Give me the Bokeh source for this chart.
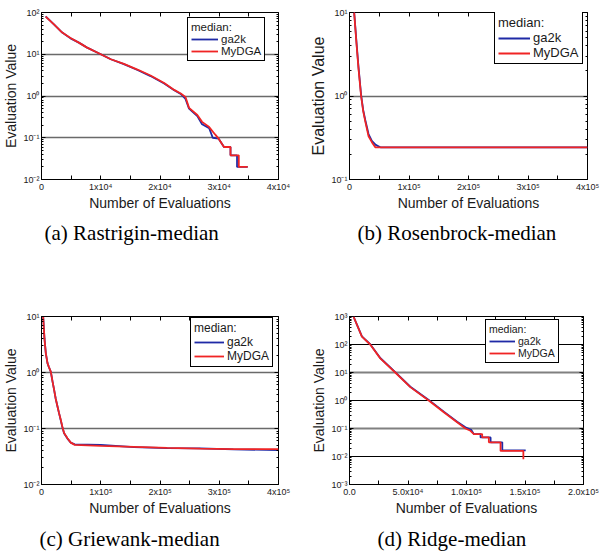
from bokeh.plotting import figure
from bokeh.layouts import row, column
from bokeh.models import (Range1d, FixedTicker, CustomJSTickFormatter, LogAxis,
                          LinearAxis, Grid, Title)
from bokeh.embed import file_html
from bokeh.resources import INLINE

# ---------------- data ----------------
# (a) Rastrigin
ras_x_ga2k = [700, 2100, 3500, 4900, 6300, 7700, 10000, 11700, 13900, 16200, 18400, 20700,
              22400, 23500, 24300, 24900, 26300, 27100, 28300, 28900, 29900, 30800, 31900,
              31900, 33000, 33000, 34800]
ras_y_ga2k = [81, 52, 33, 24, 19, 14.4, 10, 7.6, 5.8, 4.2, 3.0, 2.0,
              1.38, 1.12, 0.85, 0.50, 0.33, 0.21, 0.17, 0.10, 0.095, 0.06, 0.06,
              0.038, 0.038, 0.02, 0.02]
ras_x_mydga = [700, 2100, 3500, 4900, 6300, 7700, 10000, 11700, 13900, 16200, 18400, 20700,
               22400, 23500, 24300, 24900, 26300, 27100, 28300, 29300, 29900, 30800, 31900,
               31900, 33300, 33300, 34800]
ras_y_mydga = [80, 52, 33, 24.5, 19, 14.4, 10, 7.6, 5.9, 4.3, 3.1, 2.05,
               1.40, 1.15, 0.95, 0.52, 0.35, 0.24, 0.18, 0.12, 0.095, 0.06, 0.06,
               0.038, 0.038, 0.02, 0.02]

# (b) Rosenbrock
ros_x_ga2k = [7000, 12000, 15200, 19700, 23000, 26400, 32000, 37600, 44000, 52000, 400000]
ros_y_ga2k = [12, 4.2, 2.2, 1.0, 0.68, 0.52, 0.35, 0.29, 0.26, 0.243, 0.243]
ros_x_mydga = [7000, 12000, 15200, 19500, 23000, 26400, 32000, 37600, 43300, 400000]
ros_y_mydga = [12, 4.0, 2.1, 1.0, 0.66, 0.50, 0.33, 0.28, 0.243, 0.243]

# (c) Griewank
gri_x = [2000, 5000, 7300, 10100, 12500, 15700, 18500, 21300, 24000, 26900, 29500, 32500,
         35000, 38100, 43800, 49400, 56100, 100000, 156000, 212000, 268000, 324000, 400000]
gri_y_ga2k = [14, 4.1, 2.2, 1.47, 1.25, 1.03, 0.70, 0.49, 0.34, 0.25, 0.19, 0.140,
              0.108, 0.082, 0.066, 0.056, 0.052, 0.051, 0.0465, 0.0445, 0.044, 0.0425, 0.041]
gri_y_mydga = [14, 4.0, 2.2, 1.47, 1.25, 1.04, 0.70, 0.49, 0.34, 0.25, 0.19, 0.143,
               0.110, 0.083, 0.067, 0.056, 0.051, 0.049, 0.047, 0.045, 0.0436, 0.043, 0.043]

# (d) Ridge
rid_x_ga2k = [3400, 6000, 10600, 17700, 26300, 39100, 52000, 67700, 80600, 92000, 99100,
              104000, 106300, 112000, 112000, 120600, 120600, 130600, 130600, 150600]
rid_y_ga2k = [1000, 560, 195, 102, 33, 10.3, 3.1, 1.05, 0.40, 0.175, 0.11,
              0.09, 0.063, 0.063, 0.048, 0.048, 0.032, 0.032, 0.0165, 0.0165]
rid_x_mydga = [3400, 6000, 10600, 17700, 26300, 39100, 52000, 67700, 80600, 92000, 99100,
               103400, 106300, 113400, 113400, 119100, 119100, 129100, 129100, 148600, 148600]
rid_y_mydga = [1000, 550, 190, 100, 32, 10, 3.0, 1.0, 0.38, 0.166, 0.10,
               0.083, 0.063, 0.063, 0.048, 0.048, 0.032, 0.032, 0.0158, 0.0158, 0.008]

# ---------------- ticks / labels ----------------
ras_xticks = [0, 10000, 20000, 30000, 40000]
ras_xlabels = ["0", "1x10\u2074", "2x10\u2074", "3x10\u2074", "4x10\u2074"]
ras_xminor = [5000, 15000, 25000, 35000]
big_xticks = [0, 100000, 200000, 300000, 400000]
big_xlabels = ["0", "1x10\u2075", "2x10\u2075", "3x10\u2075", "4x10\u2075"]
big_xminor = [50000, 150000, 250000, 350000]
rid_xticks = [0, 50000, 100000, 150000, 200000]
rid_xlabels = ["0.0", "5.0x10\u2074", "1.0x10\u2075", "1.5x10\u2075", "2.0x10\u2075"]
rid_xminor = [25000, 75000, 125000, 175000]

exp_labels = {-3: "10\u207b\u00b3", -2: "10\u207b\u00b2", -1: "10\u207b\u00b9", 0: "10\u2070",
              1: "10\u00b9", 2: "10\u00b2", 3: "10\u00b3"}

titles = ["(a) Rastrigin-median", "(b) Rosenbrock-median",
          "(c) Griewank-median", "(d) Ridge-median"]
series_names = ["ga2k", "MyDGA"]

BLUE = "#1f2aa6"
RED = "#f02424"
SANS = "Liberation Sans"
TXT = "#1a1a1a"


def fmt(ticks, labels):
    return CustomJSTickFormatter(args=dict(t=list(ticks), l=list(labels)), code="""
        const i = t.findIndex(v => Math.abs(v - tick) <= 1e-6 * Math.max(Math.abs(v), 1e-12));
        return i >= 0 ? l[i] : "";
    """)


def panel(xb, yb, xr, yr, xmax, xticks, xlabels, xminor, emin, emax, grid_black, grid_gray,
          caption, cap_offset, height, btop, bbottom, bleft, bright, leg_xy, leg_font,
          leg_glyph, ylab_font, cap_standoff):
    p = figure(width=300, height=height, y_axis_type="log",
               x_range=Range1d(0, xmax), y_range=Range1d(10.0 ** emin, 10.0 ** emax),
               output_backend="svg", toolbar_location=None,
               min_border_top=btop, min_border_bottom=bbottom,
               min_border_left=bleft, min_border_right=bright)
    p.background_fill_color = "white"
    p.border_fill_color = "white"
    p.outline_line_color = "black"
    p.outline_line_width = 1

    yt = [10.0 ** e for e in range(emin, emax + 1)]
    yl = [exp_labels[e] for e in range(emin, emax + 1)]
    ym = [k * 10.0 ** e for e in range(emin, emax) for k in range(2, 10)]

    xticker = FixedTicker(ticks=xticks, minor_ticks=xminor)
    yticker = FixedTicker(ticks=yt, minor_ticks=ym)

    xa = p.xaxis[0]
    xa.ticker = xticker
    xa.formatter = fmt(xticks, xlabels)
    ya = p.yaxis[0]
    ya.ticker = yticker
    ya.formatter = fmt(yt, yl)
    for ax in (xa, ya):
        ax.axis_line_color = "black"
        ax.major_tick_line_color = "black"
        ax.minor_tick_line_color = "black"
        ax.major_tick_in = 4
        ax.major_tick_out = 0
        ax.minor_tick_in = 2
        ax.minor_tick_out = 0
        ax.major_label_text_font = SANS
        ax.major_label_text_font_size = "9px"
        ax.major_label_text_color = TXT
        ax.major_label_standoff = 2
        ax.axis_label_text_font = SANS
        ax.axis_label_text_font_style = "normal"
        ax.axis_label_text_color = TXT
        ax.axis_label_standoff = 1
    xa.minor_tick_in = 4
    xa.axis_label = "Number of Evaluations"
    xa.axis_label_text_font_size = "14px"
    xa.axis_label_standoff = 0
    ya.axis_label = "Evaluation Value"
    ya.axis_label_text_font_size = ylab_font

    # mirrored tick marks (box on)
    blank = CustomJSTickFormatter(code="return '';")
    ra = LogAxis(ticker=yticker, formatter=blank, axis_line_color=None,
                 major_tick_in=4, major_tick_out=0, minor_tick_in=2, minor_tick_out=0,
                 major_label_standoff=0, major_tick_line_color="black",
                 minor_tick_line_color="black")
    p.add_layout(ra, "right")
    ta = LinearAxis(ticker=xticker, formatter=blank, axis_line_color=None,
                    major_tick_in=4, major_tick_out=0, minor_tick_in=4, minor_tick_out=0,
                    major_label_standoff=0, major_tick_line_color="black",
                    minor_tick_line_color="black")
    p.add_layout(ta, "above")

    p.xgrid.visible = False
    p.ygrid.ticker = FixedTicker(ticks=grid_black[0])
    p.ygrid.grid_line_color = grid_black[1]
    p.ygrid.grid_line_width = grid_black[2]
    if grid_gray:
        g2 = Grid(dimension=1, ticker=FixedTicker(ticks=grid_gray[0]),
                  grid_line_color=grid_gray[1], grid_line_width=grid_gray[2])
        p.add_layout(g2)

    p.line(xb, yb, line_color=BLUE, line_width=1.8, legend_label=series_names[0])
    p.line(xr, yr, line_color=RED, line_width=1.8, legend_label=series_names[1])

    lg = p.legend[0]
    lg.title = "median:"
    lg.title_text_font = SANS
    lg.title_text_font_style = "normal"
    lg.title_text_font_size = leg_font
    lg.title_text_color = TXT
    lg.title_standoff = 0
    lg.label_text_font = SANS
    lg.label_text_font_size = leg_font
    lg.label_text_color = TXT
    lg.location = leg_xy
    lg.border_line_color = "#000000"
    lg.border_line_alpha = 1.0
    lg.border_line_width = 1.3
    lg.background_fill_color = "white"
    lg.background_fill_alpha = 1
    lg.padding = 3
    lg.margin = 0
    lg.spacing = 0
    lg.label_height = 12
    lg.glyph_height = 12
    lg.glyph_width = leg_glyph
    lg.label_standoff = 3

    p.add_layout(Title(text=caption, align="left", offset=cap_offset,
                       text_font="Liberation Serif", text_font_size="21px",
                       text_font_style="normal", text_color="black",
                       standoff=cap_standoff), "below")
    return p


GRID = "#6a6a6a"
pa = panel(ras_x_ga2k, ras_y_ga2k, ras_x_mydga, ras_y_mydga, 40000,
           ras_xticks, ras_xlabels, ras_xminor, -2, 2,
           ([0.1, 1, 10], GRID, 1.6), None, titles[0], 3,
           255, 12, 76, 41, 22, (146, 118), "11.5px", 27, "14px", 11)
pb = panel(ros_x_ga2k, ros_y_ga2k, ros_x_mydga, ros_y_mydga, 400000,
           big_xticks, big_xlabels, big_xminor, -1, 1,
           ([1], GRID, 1.6), None, titles[1], 8,
           255, 12, 76, 49, 13, (145, 115), "13px", 32, "16px", 11)
pc = panel(gri_x, gri_y_ga2k, gri_x, gri_y_mydga, 400000,
           big_xticks, big_xlabels, big_xminor, -2, 1,
           ([0.1, 1], GRID, 1.6), None, titles[2], -2,
           301, 61, 72, 41, 22, (149, 117), "12px", 30, "14px", 12)
pd = panel(rid_x_ga2k, rid_y_ga2k, rid_x_mydga, rid_y_mydga, 200000,
           rid_xticks, rid_xlabels, rid_xminor, -3, 3,
           ([0.01, 1, 100], "black", 1), ([0.1, 10], "#808080", 2.2), titles[3], 28,
           301, 61, 72, 49, 17, (136, 121), "10.5px", 26, "14px", 12)

layout = column(row(pa, pb), row(pc, pd))
open("out.html", "w").write(file_html(layout, INLINE))
